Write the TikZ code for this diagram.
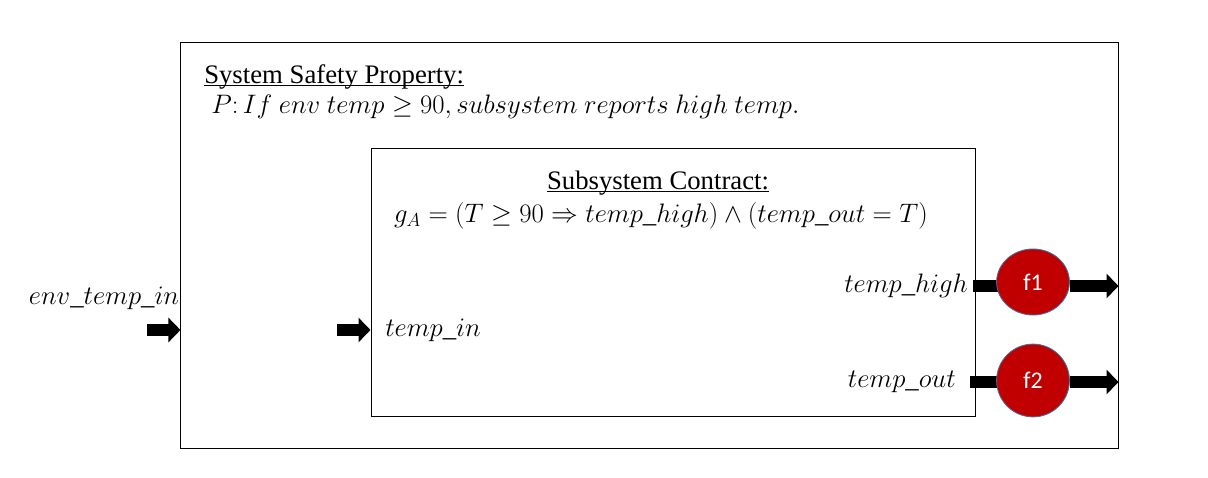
\documentclass[tikz,border=0pt]{standalone}
\usepackage{fix-cm}
\usepackage{fontspec}
\setmainfont{Liberation Serif}
\newfontfamily\calibri{Carlito}
\usetikzlibrary{arrows.meta,shapes.geometric,backgrounds}
\definecolor{fred}{HTML}{C00000}
\definecolor{fedge}{HTML}{41719C}
\tikzset{
  box/.style={draw,line width=0.6pt,inner sep=0pt},
  port/.style={inner sep=0pt},
  uline/.style={line width=0.7pt},
  fblock/.style={ellipse,draw=fedge,line width=0.6pt,fill=fred,text=white,inner sep=0pt,
    font=\calibri\fontsize{17}{20}\selectfont,minimum width=1.82cm},
  bigarrow/.style={line width=0.3cm,-{Triangle[length=0.3cm,width=0.6cm]}},
  stub/.style={line width=0.3cm},
}
\begin{document}
\begin{tikzpicture}[x=0.025cm,y=-0.025cm,font=\fontsize{19}{23}\selectfont]
\useasboundingbox (0,0) rectangle (1208,478);
\node[box,minimum width=23.425cm,minimum height=10.15cm] (sys) at (649.5,245) {};
\node[box,minimum width=15.1cm,minimum height=6.7cm] (sub) at (673,282) {};
% titles
\node[port,anchor=west] (sysT) at (204,77) {System Safety Property:};
\draw[uline] ([yshift=-1.6pt]sysT.base west) -- ([yshift=-1.6pt]sysT.base east);
\node[port,anchor=west] (sysP) at (211,107) {$P\colon If\ env\ temp\geq 90, subsystem\ reports\ high\ temp.$};
\node[port] (subT) at (658,183) {Subsystem Contract:};
\draw[uline] ([yshift=-1.6pt]subT.base west) -- ([yshift=-1.6pt]subT.base east);
\node[port] (subG) at (661,216) {$g_A=(T\geq 90\Rightarrow temp\_high)\wedge(temp\_out=T)$};
% ports
\node[port] (envIn) at (104,298) {$env\_temp\_in$};
\node[port,anchor=west] (tIn) at (385,330) {$temp\_in$};
\node[port,anchor=east] (tHigh) at (968,286) {$temp\_high$};
\node[port,anchor=east] (tOut) at (956,382) {$temp\_out$};
% f blocks
\node[fblock,minimum height=1.65cm] (f1) at (1033,282) {f1};
\node[fblock,minimum height=1.82cm] (f2) at (1033,380.5) {f2};
\coordinate (a0) at (147,330);
\coordinate (a1) at (337,330);
\coordinate (h0) at (973,286);
\coordinate (o0) at (970,382);
\begin{scope}[on background layer]
\draw[bigarrow] (a0) -- (a0 -| sys.west);
\draw[bigarrow] (a1) -- (a1 -| sub.west);
\draw[stub] (h0) -- (h0 -| f1.center);
\draw[stub] (o0) -- (o0 -| f2.center);
\draw[bigarrow] (h0 -| f1.east) -- (h0 -| sys.east);
\draw[bigarrow] (o0 -| f2.east) -- (o0 -| sys.east);
\end{scope}
\end{tikzpicture}
\end{document}
